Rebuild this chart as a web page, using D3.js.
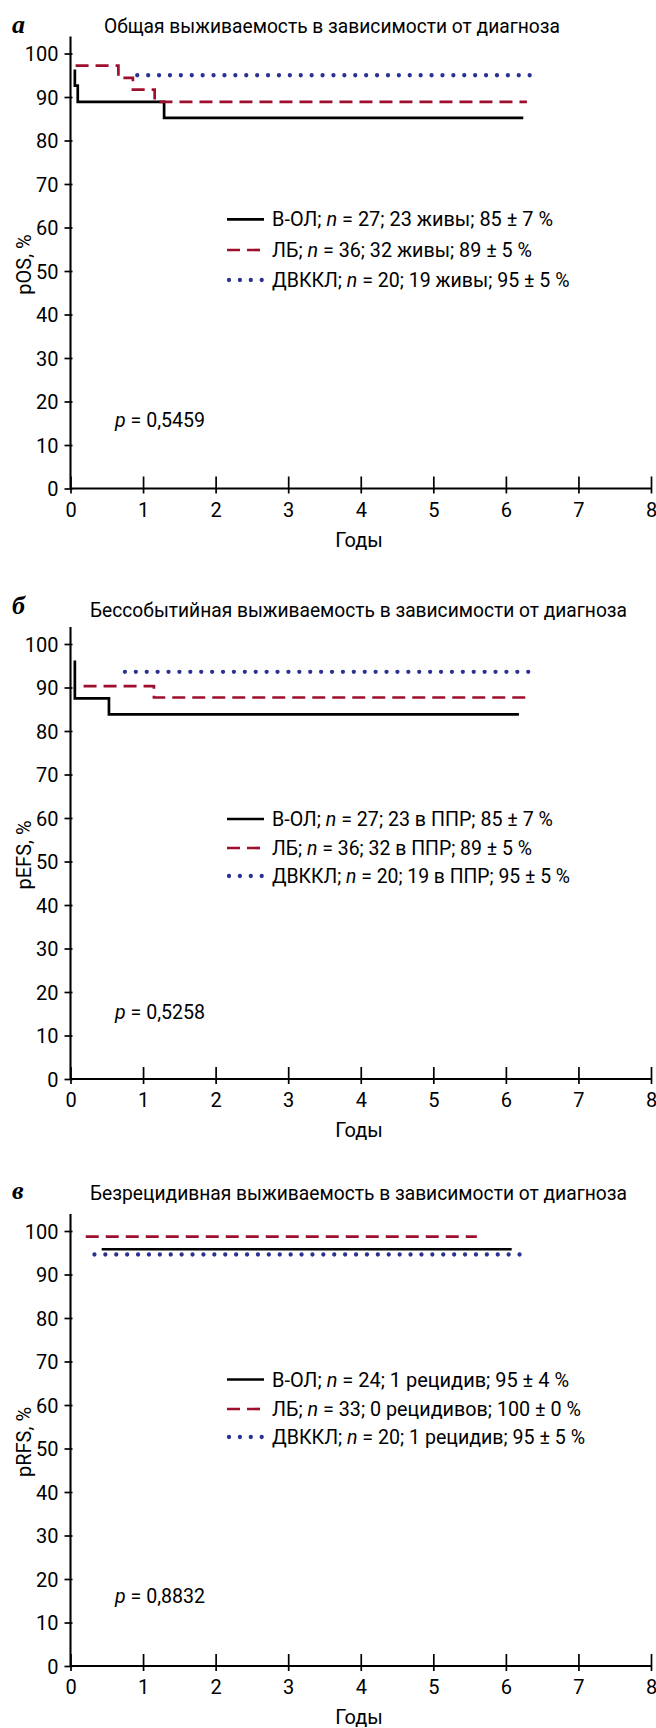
<!DOCTYPE html>
<html><head><meta charset="utf-8">
<script src="https://cdn.jsdelivr.net/npm/d3@7"></script>
<style>
body{margin:0;background:#fff}
svg{display:block}
text{font-family:Roboto,"Open Sans",sans-serif;fill:#000}
</style>
</head><body>
<svg id="c" width="656" height="1728"></svg>
<script>
// ---------- data ----------
const years = [0,1,2,3,4,5,6,7,8];
const pctTicks = [0,10,20,30,40,50,60,70,80,90,100];
const panelLetters = ["а","б","в"];
const panelTitles = [
  "Общая выживаемость в зависимости от диагноза",
  "Бессобытийная выживаемость в зависимости от диагноза",
  "Безрецидивная выживаемость в зависимости от диагноза"
];
const yLabels = ["pOS, %","pEFS, %","pRFS, %"];
const xLabel = "Годы";
const pValues = ["0,5459","0,5258","0,8832"];
const groups = ["В-ОЛ","ЛБ","ДВККЛ"];
const groupN = [[27,36,20],[27,36,20],[24,33,20]];
const groupOutcome = [
  ["23 живы; 85 ± 7 %","32 живы; 89 ± 5 %","19 живы; 95 ± 5 %"],
  ["23 в ППР; 85 ± 7 %","32 в ППР; 89 ± 5 %","19 в ППР; 95 ± 5 %"],
  ["1 рецидив; 95 ± 4 %","0 рецидивов; 100 ± 0 %","1 рецидив; 95 ± 5 %"]
];

// Kaplan–Meier step curves (time in years, survival %)
const osVolT = [0.06, 0.06, 0.10, 1.29, 6.24];
const osVolV = [96.3, 92.6, 88.9, 85.2, 85.2];
const osLbT  = [0.07, 0.66, 0.86, 1.16, 6.29];
const osLbV  = [97.2, 94.4, 91.7, 88.9, 88.9];
const osDvT  = [0.92, 6.47];
const osDvV  = [95.0, 95.0];

const efsVolT = [0.06, 0.06, 0.53, 6.18];
const efsVolV = [96.2, 87.5, 83.8, 83.8];
const efsLbT  = [0.18, 1.15, 6.35];
const efsLbV  = [90.3, 87.7, 87.7];
const efsDvT  = [0.75, 6.34];
const efsDvV  = [93.6, 93.6];

const rfsVolT = [0.43, 6.08];
const rfsVolV = [95.8, 95.8];
const rfsLbT  = [0.21, 5.60];
const rfsLbV  = [98.7, 98.7];
const rfsDvT  = [0.33, 6.27];
const rfsDvV  = [94.6, 94.6];

const curves = [
  [[osVolT,osVolV],[osLbT,osLbV],[osDvT,osDvV]],
  [[efsVolT,efsVolV],[efsLbT,efsLbV],[efsDvT,efsDvV]],
  [[rfsVolT,rfsVolV],[rfsLbT,rfsLbV],[rfsDvT,rfsDvV]]
];

// ---------- layout / style ----------
const X0 = 70.5, X1 = 651;
const panelTop = [53.5, 644, 1231];   // y of 100 %
const plotH = 435;
const titleX = [104, 90, 90];
const titleY = [32.5, 616.5, 1200];
const titleW = [456, 537, 537];
const letterY = [32.5, 613.5, 1198.5];
const legendRows = [[219.3,250,280],[819,848,876],[1379.5,1409,1437]];
const legendW = [[281,260,297.5],[281,260,298],[297,309,313]];
const pY = [427, 1019, 1603];
const FS = "20px";

const styles = [
  {stroke:"#000000", width:2.7, dash:null, cap:"butt"},
  {stroke:"#9e0f2e", width:2.7, dash:"13,7", cap:"butt"},
  {stroke:"#2b3192", width:4.3, dash:"0,10.9", cap:"round"}
];

const svg = d3.select("#c");
const x = d3.scaleLinear().domain([0,8]).range([X0,X1]);

panelTitles.forEach((title,p) => {
  const y = d3.scaleLinear().domain([0,100]).range([panelTop[p]+plotH, panelTop[p]]);
  const g = svg.append("g");

  // letter
  g.append("text").attr("x",12).attr("y",letterY[p])
    .style("font-family","'Liberation Serif','DejaVu Serif',serif")
    .style("font-weight","bold").style("font-style","italic")
    .style("font-size","26px").text(panelLetters[p]);
  // title
  g.append("text").attr("x",titleX[p]).attr("y",titleY[p])
    .style("font-size",FS)
    .attr("textLength",titleW[p]).attr("lengthAdjust","spacingAndGlyphs")
    .text(title);

  // y axis
  const ya = g.append("g").attr("transform",`translate(${X0},0)`)
    .call(d3.axisLeft(y).tickValues(pctTicks).tickSize(6).tickPadding(8));
  ya.select(".domain").remove();
  ya.selectAll(".tick line").attr("x1",2).attr("x2",-6).attr("stroke","#000").attr("stroke-width",1.7);
  ya.selectAll(".tick text").style("font-size",FS).style("font-family","Roboto,sans-serif").attr("fill","#000").attr("x",-12).attr("dy","0.36em");
  g.append("line").attr("x1",X0).attr("x2",X0).attr("y1",y(0)).attr("y2",y(103.9))
    .attr("stroke","#000").attr("stroke-width",2.1);

  // x axis
  const xa = g.append("g").attr("transform",`translate(0,${y(0)})`)
    .call(d3.axisBottom(x).tickValues(years).tickSize(12));
  xa.select(".domain").remove();
  xa.selectAll(".tick line").attr("y1",5).attr("y2",-12).attr("stroke","#000").attr("stroke-width",1.7);
  xa.selectAll(".tick text").style("font-size",FS).style("font-family","Roboto,sans-serif").attr("fill","#000").attr("y",28).attr("dy",0);
  g.append("line").attr("x1",X0).attr("x2",X1).attr("y1",y(0)).attr("y2",y(0))
    .attr("stroke","#000").attr("stroke-width",2.1);

  // axis titles
  g.append("text").attr("x",359).attr("y",y(0)+58).attr("text-anchor","middle")
    .style("font-size",FS).text(xLabel);
  const yc = y(51.5);
  g.append("text").attr("transform",`translate(31,${yc}) rotate(-90)`).attr("text-anchor","middle")
    .style("font-size",FS).text(yLabels[p]);

  // curves
  const line = d3.line().curve(d3.curveStepAfter).x(d=>x(d[0])).y(d=>y(d[1]));
  curves[p].forEach((c,i) => {
    const pts = c[0].map((t,k)=>[t,c[1][k]]);
    const st = styles[i];
    g.append("path").attr("d",line(pts)).attr("fill","none")
      .attr("stroke",st.stroke).attr("stroke-width",st.width)
      .attr("stroke-dasharray",st.dash).attr("stroke-linecap",st.cap);
  });

  // legend
  groups.forEach((name,i) => {
    const ly = legendRows[p][i];
    const st = styles[i];
    g.append("line").attr("x1", i===2 ? 229 : 227).attr("x2",264).attr("y1",ly).attr("y2",ly)
      .attr("stroke",st.stroke).attr("stroke-width",st.width)
      .attr("stroke-dasharray",st.dash).attr("stroke-linecap",st.cap);
    const t = g.append("text").attr("x",272).attr("y",ly+7).style("font-size",FS)
      .attr("textLength",legendW[p][i]).attr("lengthAdjust","spacingAndGlyphs");
    t.append("tspan").text(name+"; ");
    t.append("tspan").style("font-style","italic").text("n");
    t.append("tspan").text(" = "+groupN[p][i]+"; "+groupOutcome[p][i]);
  });

  // p value
  const pt = g.append("text").attr("x",115).attr("y",pY[p]).style("font-size",FS)
    .attr("textLength",90).attr("lengthAdjust","spacingAndGlyphs");
  pt.append("tspan").style("font-style","italic").text("p");
  pt.append("tspan").text(" = "+pValues[p]);
});
</script>
</body></html>
